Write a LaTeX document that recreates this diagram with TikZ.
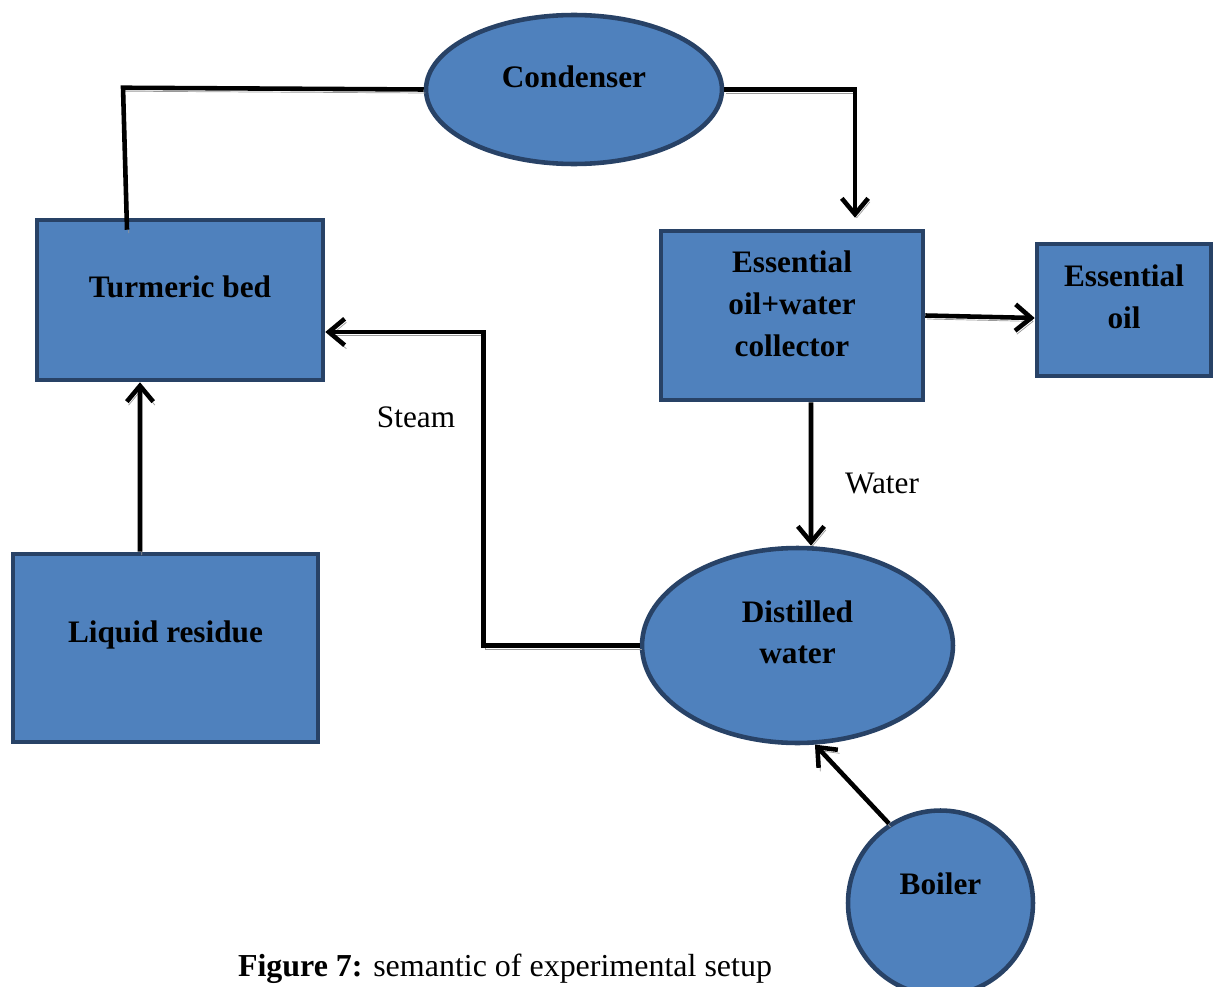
\documentclass[tikz,border=0pt]{standalone}
\usepackage{fontspec}
\setmainfont{Liberation Serif}
\usepackage{tikz}
\usetikzlibrary{shapes.geometric,arrows.meta}
\definecolor{boxfill}{RGB}{79,129,189}
\definecolor{boxline}{RGB}{40,66,102}

\begin{document}
\begin{tikzpicture}[
      x=0.02cm, y=-0.02cm,
      font=\fontsize{17.8}{23.8}\selectfont,
      unit/.style = {draw=boxline, fill=boxfill, line width=2.6pt,
        inner sep=0pt},
      tank/.style = {unit, shape=rectangle},
      vessel/.style = {unit, shape=ellipse},
      txt/.style = {yshift=7.5pt, align=center,
        font=\fontsize{17.8}{23.8}\selectfont\bfseries},
      pipe/.style = {draw=black, line width=2.6pt,
        preaction={draw=black!40, transform canvas={shift={(0.035cm,-0.07cm)}}}},
      flow/.style = {pipe, -{Straight Barb[length=9pt,width=15pt]}}
    ]
      \useasboundingbox (0,0) rectangle (1218,987);
      \clip (0,0) rectangle (1218,987);

      \node[vessel, minimum width=5.92cm, minimum height=2.98cm,
        label={[txt]center:Condenser}] (cond) at (574,89.5) {};
      \node[tank, minimum width=5.72cm, minimum height=3.2cm,
        label={[txt]center:Turmeric bed}] (turm) at (180,300) {};
      \node[tank, minimum width=6.1cm, minimum height=3.76cm,
        label={[txt]center:Liquid residue}] (liq) at (165.5,648) {};
      \node[tank, minimum width=5.24cm, minimum height=3.38cm,
        label={[txt,yshift=-1pt]center:Essential\\oil+water\\collector}] (coll) at (792,315.5) {};
      \node[tank, minimum width=3.48cm, minimum height=2.64cm,
        label={[txt]center:Essential\\oil}] (oil) at (1124,310) {};
      \node[vessel, minimum width=6.22cm, minimum height=3.9cm,
        label={[txt]center:Distilled\\water}] (dist) at (797.5,645.5) {};
      \node[unit, shape=circle, minimum size=3.7cm,
        label={[txt,yshift=3.5pt]center:Boiler}] (boil) at (940.5,903) {};

      \draw[pipe] ([xshift=-1.06cm,yshift=-0.24cm]turm.north) -- ++(-4,-142) -- (cond.west);
      \draw[flow] (cond.east) -| ([xshift=1.26cm,yshift=0.22cm]coll.north);
      \draw[flow] (dist.west) -- ++(-156,0) |- ([yshift=-0.64cm]turm.east);
      \draw[flow] ([xshift=-0.51cm]liq.north) -- ([xshift=-0.8cm]turm.south);
      \draw[flow] (coll.east) -- ([yshift=-0.16cm]oil.west);
      \draw[flow] ([xshift=0.38cm]coll.south) -- ([xshift=0.27cm]dist.north);
      \draw[flow] (boil.123) -- (dist.-80);

      \node (steam) at (416,417) {Steam};
      \node (water) at (882,483) {Water};
      \node[font=\fontsize{18.2}{22}\selectfont] (cap) at (505,969) {\textbf{Figure 7:} semantic of experimental setup};
  \end{tikzpicture}
\end{document}
